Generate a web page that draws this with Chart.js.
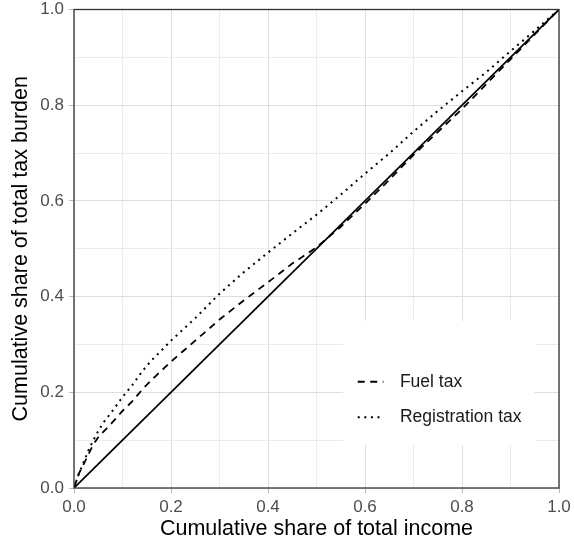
<!DOCTYPE html>
<html>
<head>
<meta charset="utf-8">
<title>Concentration curves</title>
<script src="https://cdn.jsdelivr.net/npm/chart.js@4/dist/chart.umd.min.js"></script>
<style>
  html, body { margin: 0; padding: 0; background: #ffffff; }
  #wrap { width: 574px; height: 546px; position: relative; }
</style>
</head>
<body>
<div id="wrap"><canvas id="chart" width="574" height="546"></canvas></div>
<script>
// Cumulative share of total income (x) at which each curve is sampled
const incomeShare = [0, 0.01, 0.02, 0.03, 0.04, 0.05, 0.06, 0.08, 0.10, 0.12, 0.14, 0.16, 0.18, 0.20,
  0.25, 0.30, 0.35, 0.40, 0.45, 0.50, 0.55, 0.60, 0.65, 0.70, 0.75, 0.80, 0.85, 0.90, 0.95, 1.00];

// Cumulative share of total tax burden
const fuelTax = [0, 0.030, 0.050, 0.071, 0.091, 0.106, 0.117, 0.138, 0.161, 0.181, 0.205, 0.226, 0.245, 0.264,
  0.308, 0.352, 0.392, 0.430, 0.469, 0.503, 0.546, 0.594, 0.644, 0.696, 0.744, 0.792, 0.844, 0.896, 0.948, 1.000];
const registrationTax = [0, 0.030, 0.054, 0.079, 0.100, 0.119, 0.136, 0.162, 0.190, 0.215, 0.243, 0.267, 0.287, 0.308,
  0.355, 0.406, 0.451, 0.492, 0.532, 0.571, 0.613, 0.657, 0.699, 0.745, 0.788, 0.829, 0.869, 0.913, 0.956, 1.000];

// Line of equality
const equalityX = [0, 1];
const equalityY = [0, 1];

// Labelled axis ticks
const majorTicks = [0, 0.2, 0.4, 0.6, 0.8, 1.0];

const seriesNames = ['Fuel tax', 'Registration tax'];

const FONT = '"Liberation Sans", Arial, Helvetica, sans-serif';
const pairs = (xs, ys) => xs.map((x, i) => ({ x: x, y: ys[i] }));
const isMajor = v => majorTicks.some(t => Math.abs(t - v) < 1e-6);

const gridColor = ctx => (ctx.tick && isMajor(ctx.tick.value)) ? '#dedede' : '#ececec';
const tickMarkColor = ctx => (ctx.tick && isMajor(ctx.tick.value)) ? '#b8b8b8' : 'rgba(0,0,0,0)';
const tickLabel = v => isMajor(v) ? Number(v).toFixed(1) : '';

// Panel border and in-panel legend
const panelPlugin = {
  id: 'panelDecor',
  afterDatasetsDraw(chart) {
    const { ctx, chartArea: a, scales: { x, y } } = chart;
    ctx.save();

    // legend box
    const bx0 = x.getPixelForValue(0.555), bx1 = x.getPixelForValue(0.95);
    const by0 = y.getPixelForValue(0.349), by1 = y.getPixelForValue(0.09);
    ctx.fillStyle = '#ffffff';
    ctx.fillRect(bx0, by0, bx1 - bx0, by1 - by0);

    const entries = chart.data.datasets.filter(d => d.inLegend);
    const rowY = [y.getPixelForValue(0.222), y.getPixelForValue(0.148)];
    const symX0 = x.getPixelForValue(0.585), symX1 = x.getPixelForValue(0.638);
    const textX = x.getPixelForValue(0.672);
    entries.forEach((d, i) => {
      ctx.beginPath();
      ctx.strokeStyle = d.borderColor;
      ctx.lineWidth = d.borderWidth;
      ctx.setLineDash(d.borderDash || []);
      ctx.lineCap = 'butt';
      ctx.moveTo(symX0, rowY[i]);
      ctx.lineTo(symX1, rowY[i]);
      ctx.stroke();
      ctx.setLineDash([]);
      ctx.fillStyle = '#1a1a1a';
      ctx.font = '17.5px ' + FONT;
      ctx.textAlign = 'left';
      ctx.textBaseline = 'middle';
      ctx.fillText(d.label, textX, rowY[i]);
    });

    // panel border
    ctx.strokeStyle = '#333333';
    ctx.lineWidth = 1.3;
    ctx.strokeRect(a.left, a.top, a.right - a.left, a.bottom - a.top);
    ctx.restore();
  }
};

new Chart(document.getElementById('chart'), {
  type: 'scatter',
  data: {
    datasets: [
      {
        label: 'Equality',
        data: pairs(equalityX, equalityY),
        showLine: true, borderColor: '#000000', borderWidth: 1.7,
        pointRadius: 0, tension: 0, inLegend: false
      },
      {
        label: seriesNames[0],
        data: pairs(incomeShare, fuelTax),
        showLine: true, borderColor: '#000000', borderWidth: 1.8, borderDash: [7, 5.5],
        pointRadius: 0, tension: 0, inLegend: true
      },
      {
        label: seriesNames[1],
        data: pairs(incomeShare, registrationTax),
        showLine: true, borderColor: '#000000', borderWidth: 2, borderDash: [2, 4.6],
        pointRadius: 0, tension: 0, inLegend: true
      }
    ]
  },
  options: {
    responsive: false,
    animation: false,
    layout: { padding: { left: 0, top: 9.5, right: 15, bottom: 0 } },
    plugins: { legend: { display: false }, tooltip: { enabled: false } },
    scales: {
      x: {
        type: 'linear', min: 0, max: 1,
        afterFit: s => { s.height = 58; s.paddingLeft = 0; s.paddingRight = 0; },
        ticks: {
          stepSize: 0.1, autoSkip: false, maxRotation: 0, padding: 4,
          color: '#4d4d4d', font: { family: FONT, size: 17 },
          callback: tickLabel
        },
        grid: { color: gridColor, lineWidth: 1, tickColor: tickMarkColor, tickLength: 5, drawTicks: true },
        border: { display: false },
        title: {
          display: true, text: 'Cumulative share of total income', color: '#000000',
          font: { family: FONT, size: 21.5, lineHeight: 1.2 }, padding: { top: 0, bottom: 4 }
        }
      },
      y: {
        type: 'linear', min: 0, max: 1,
        afterFit: s => { s.width = 74; s.paddingTop = 0; s.paddingBottom = 0; },
        ticks: {
          stepSize: 0.1, autoSkip: false, padding: 5,
          color: '#4d4d4d', font: { family: FONT, size: 17 },
          callback: tickLabel
        },
        grid: { color: gridColor, lineWidth: 1, tickColor: tickMarkColor, tickLength: 5, drawTicks: true },
        border: { display: false },
        title: {
          display: true, text: 'Cumulative share of total tax burden', color: '#000000',
          font: { family: FONT, size: 21.5, lineHeight: 1.2 }, padding: { top: 8, bottom: 0 }
        }
      }
    }
  },
  plugins: [panelPlugin]
});
</script>
</body>
</html>
